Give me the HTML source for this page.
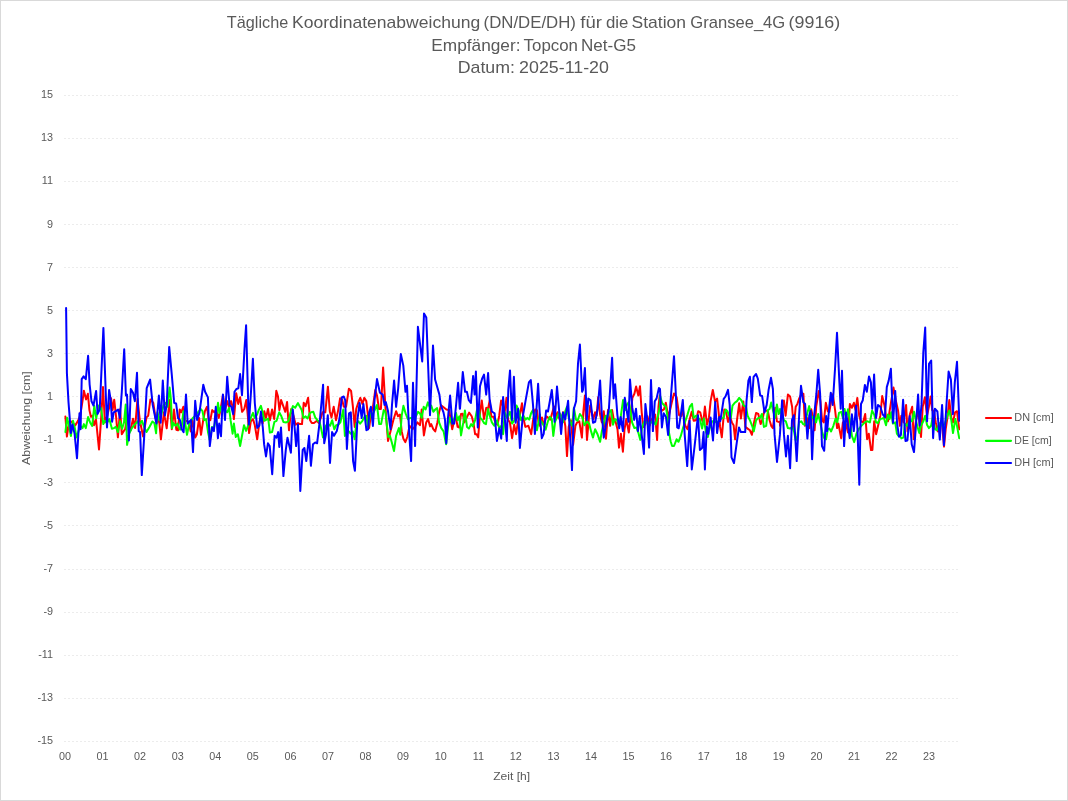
<!DOCTYPE html>
<html lang="de"><head><meta charset="utf-8"><title>Tägliche Koordinatenabweichung</title>
<style>html,body{margin:0;padding:0;background:#fff;}svg{display:block;}text{font-family:"Liberation Sans",sans-serif;fill:#595959;}</style></head><body>
<svg width="1068" height="801" viewBox="0 0 1068 801">
<rect x="0" y="0" width="1068" height="801" fill="#fff"/>
<rect x="0.5" y="0.5" width="1067" height="800" fill="none" stroke="#d9d9d9" stroke-width="1"/>
<line x1="64.5" y1="741.5" x2="960" y2="741.5" stroke="#d9d9d9" stroke-width="1" stroke-dasharray="1 3"/>
<line x1="64.5" y1="698.5" x2="960" y2="698.5" stroke="#d9d9d9" stroke-width="1" stroke-dasharray="1 3"/>
<line x1="64.5" y1="655.5" x2="960" y2="655.5" stroke="#d9d9d9" stroke-width="1" stroke-dasharray="1 3"/>
<line x1="64.5" y1="612.5" x2="960" y2="612.5" stroke="#d9d9d9" stroke-width="1" stroke-dasharray="1 3"/>
<line x1="64.5" y1="569.5" x2="960" y2="569.5" stroke="#d9d9d9" stroke-width="1" stroke-dasharray="1 3"/>
<line x1="64.5" y1="525.5" x2="960" y2="525.5" stroke="#d9d9d9" stroke-width="1" stroke-dasharray="1 3"/>
<line x1="64.5" y1="482.5" x2="960" y2="482.5" stroke="#d9d9d9" stroke-width="1" stroke-dasharray="1 3"/>
<line x1="64.5" y1="439.5" x2="960" y2="439.5" stroke="#d9d9d9" stroke-width="1" stroke-dasharray="1 3"/>
<line x1="64.5" y1="396.5" x2="960" y2="396.5" stroke="#d9d9d9" stroke-width="1" stroke-dasharray="1 3"/>
<line x1="64.5" y1="353.5" x2="960" y2="353.5" stroke="#d9d9d9" stroke-width="1" stroke-dasharray="1 3"/>
<line x1="64.5" y1="310.5" x2="960" y2="310.5" stroke="#d9d9d9" stroke-width="1" stroke-dasharray="1 3"/>
<line x1="64.5" y1="267.5" x2="960" y2="267.5" stroke="#d9d9d9" stroke-width="1" stroke-dasharray="1 3"/>
<line x1="64.5" y1="224.5" x2="960" y2="224.5" stroke="#d9d9d9" stroke-width="1" stroke-dasharray="1 3"/>
<line x1="64.5" y1="181.5" x2="960" y2="181.5" stroke="#d9d9d9" stroke-width="1" stroke-dasharray="1 3"/>
<line x1="64.5" y1="138.5" x2="960" y2="138.5" stroke="#d9d9d9" stroke-width="1" stroke-dasharray="1 3"/>
<line x1="64.5" y1="95.5" x2="960" y2="95.5" stroke="#d9d9d9" stroke-width="1" stroke-dasharray="1 3"/>
<line x1="64" y1="418.5" x2="960" y2="418.5" stroke="#d9d9d9" stroke-width="1"/>
<text x="53" y="744" font-size="10.8" text-anchor="end">-15</text>
<text x="53" y="701" font-size="10.8" text-anchor="end">-13</text>
<text x="53" y="658" font-size="10.8" text-anchor="end">-11</text>
<text x="53" y="615" font-size="10.8" text-anchor="end">-9</text>
<text x="53" y="572" font-size="10.8" text-anchor="end">-7</text>
<text x="53" y="529" font-size="10.8" text-anchor="end">-5</text>
<text x="53" y="486" font-size="10.8" text-anchor="end">-3</text>
<text x="53" y="443" font-size="10.8" text-anchor="end">-1</text>
<text x="53" y="400" font-size="10.8" text-anchor="end">1</text>
<text x="53" y="357" font-size="10.8" text-anchor="end">3</text>
<text x="53" y="314" font-size="10.8" text-anchor="end">5</text>
<text x="53" y="271" font-size="10.8" text-anchor="end">7</text>
<text x="53" y="228" font-size="10.8" text-anchor="end">9</text>
<text x="53" y="184" font-size="10.8" text-anchor="end">11</text>
<text x="53" y="141" font-size="10.8" text-anchor="end">13</text>
<text x="53" y="98" font-size="10.8" text-anchor="end">15</text>
<text x="65.0" y="759.8" font-size="10.8" text-anchor="middle">00</text>
<text x="102.6" y="759.8" font-size="10.8" text-anchor="middle">01</text>
<text x="140.1" y="759.8" font-size="10.8" text-anchor="middle">02</text>
<text x="177.7" y="759.8" font-size="10.8" text-anchor="middle">03</text>
<text x="215.3" y="759.8" font-size="10.8" text-anchor="middle">04</text>
<text x="252.8" y="759.8" font-size="10.8" text-anchor="middle">05</text>
<text x="290.4" y="759.8" font-size="10.8" text-anchor="middle">06</text>
<text x="328.0" y="759.8" font-size="10.8" text-anchor="middle">07</text>
<text x="365.6" y="759.8" font-size="10.8" text-anchor="middle">08</text>
<text x="403.1" y="759.8" font-size="10.8" text-anchor="middle">09</text>
<text x="440.7" y="759.8" font-size="10.8" text-anchor="middle">10</text>
<text x="478.3" y="759.8" font-size="10.8" text-anchor="middle">11</text>
<text x="515.8" y="759.8" font-size="10.8" text-anchor="middle">12</text>
<text x="553.4" y="759.8" font-size="10.8" text-anchor="middle">13</text>
<text x="591.0" y="759.8" font-size="10.8" text-anchor="middle">14</text>
<text x="628.5" y="759.8" font-size="10.8" text-anchor="middle">15</text>
<text x="666.1" y="759.8" font-size="10.8" text-anchor="middle">16</text>
<text x="703.7" y="759.8" font-size="10.8" text-anchor="middle">17</text>
<text x="741.3" y="759.8" font-size="10.8" text-anchor="middle">18</text>
<text x="778.8" y="759.8" font-size="10.8" text-anchor="middle">19</text>
<text x="816.4" y="759.8" font-size="10.8" text-anchor="middle">20</text>
<text x="854.0" y="759.8" font-size="10.8" text-anchor="middle">21</text>
<text x="891.5" y="759.8" font-size="10.8" text-anchor="middle">22</text>
<text x="929.1" y="759.8" font-size="10.8" text-anchor="middle">23</text>
<text x="226.82" y="28.0" font-size="16.6" textLength="61.40" lengthAdjust="spacingAndGlyphs">Tägliche</text>
<text x="292.02" y="28.0" font-size="16.6" textLength="188.22" lengthAdjust="spacingAndGlyphs">Koordinatenabweichung</text>
<text x="483.54" y="28.0" font-size="16.6" textLength="92.42" lengthAdjust="spacingAndGlyphs">(DN/DE/DH)</text>
<text x="580.32" y="28.0" font-size="16.6" textLength="21.60" lengthAdjust="spacingAndGlyphs">für</text>
<text x="606.04" y="28.0" font-size="16.6" textLength="22.42" lengthAdjust="spacingAndGlyphs">die</text>
<text x="631.52" y="28.0" font-size="16.6" textLength="54.46" lengthAdjust="spacingAndGlyphs">Station</text>
<text x="690.30" y="28.0" font-size="16.6" textLength="94.92" lengthAdjust="spacingAndGlyphs">Gransee_4G</text>
<text x="788.54" y="28.0" font-size="16.6" textLength="51.70" lengthAdjust="spacingAndGlyphs">(9916)</text>
<text x="431.30" y="50.6" font-size="16.6" textLength="89.20" lengthAdjust="spacingAndGlyphs">Empfänger:</text>
<text x="523.60" y="50.6" font-size="16.6" textLength="54.34" lengthAdjust="spacingAndGlyphs">Topcon</text>
<text x="581.02" y="50.6" font-size="16.6" textLength="54.94" lengthAdjust="spacingAndGlyphs">Net-G5</text>
<text x="457.74" y="72.9" font-size="16.6" textLength="57.24" lengthAdjust="spacingAndGlyphs">Datum:</text>
<text x="519.08" y="72.9" font-size="16.6" textLength="89.86" lengthAdjust="spacingAndGlyphs">2025-11-20</text>
<text x="493.2" y="779.9" font-size="11.6" textLength="37" lengthAdjust="spacingAndGlyphs">Zeit [h]</text>
<text transform="translate(29.7,464.9) rotate(-90)" font-size="11.6" textLength="93.6" lengthAdjust="spacingAndGlyphs">Abweichung [cm]</text>
<line x1="986" y1="418" x2="1011" y2="418" stroke="#ff0000" stroke-width="2.2" stroke-linecap="round"/>
<text x="1014.3" y="420.9" font-size="10.4" textLength="39.4" lengthAdjust="spacingAndGlyphs">DN [cm]</text>
<line x1="986" y1="440.8" x2="1011" y2="440.8" stroke="#00ff00" stroke-width="2.2" stroke-linecap="round"/>
<text x="1014.3" y="443.7" font-size="10.4" textLength="37.4" lengthAdjust="spacingAndGlyphs">DE [cm]</text>
<line x1="986" y1="463" x2="1011" y2="463" stroke="#0000ff" stroke-width="2.2" stroke-linecap="round"/>
<text x="1014.3" y="465.9" font-size="10.4" textLength="39.4" lengthAdjust="spacingAndGlyphs">DH [cm]</text>
<defs><clipPath id="plot"><rect x="64" y="90" width="896" height="656"/></clipPath></defs>
<polyline clip-path="url(#plot)" points="65.4,416.6 66.9,436.6 69.0,422.4 71.2,421.4 73.1,423.6 75.2,425.4 78.0,420.9 80.2,415.7 82.5,401.1 83.9,390.8 86.1,399.4 87.9,393.8 89.4,410.1 90.9,416.8 92.6,415.7 94.0,425.2 96.0,419.6 99.0,449.4 101.0,420.2 103.0,387.0 104.9,422.4 107.2,415.7 109.4,406.7 111.1,398.3 112.6,410.1 114.2,399.7 116.2,417.9 117.9,437.3 120.1,409.2 121.8,434.2 123.5,431.4 125.2,429.2 126.9,417.9 128.8,425.8 130.6,430.3 133.0,418.8 135.1,428.1 137.5,398.8 139.8,420.2 143.1,436.5 146.5,417.4 148.2,415.7 150.4,399.4 153.3,402.8 155.5,417.9 157.2,422.4 158.9,417.9 160.9,439.3 163.9,412.3 166.7,428.3 169.6,400.0 171.8,429.2 174.0,409.5 176.3,429.7 178.0,430.3 179.7,409.5 180.0,410.1 181.3,412.3 183.4,406.7 185.1,420.2 187.0,421.3 189.0,422.4 190.7,431.4 192.4,420.2 195.2,437.6 196.9,434.2 199.1,417.9 201.0,434.8 203.0,421.3 204.9,411.2 207.0,406.7 208.7,420.2 210.3,420.2 212.2,410.1 214.3,412.3 216.0,410.1 218.8,417.9 220.4,410.1 223.0,394.9 224.9,410.1 227.2,401.1 228.9,406.7 231.1,401.1 232.8,407.8 233.9,419.1 236.2,393.2 238.2,403.9 240.1,397.2 242.1,411.8 244.3,409.0 246.3,400.0 248.0,417.9 249.1,433.1 250.8,421.3 253.0,419.1 254.7,424.7 257.2,439.3 259.2,423.6 260.9,415.7 262.6,423.6 264.3,411.2 266.0,417.9 268.0,409.0 269.9,420.2 272.1,409.5 274.2,419.1 276.3,390.8 278.0,396.6 279.4,410.1 281.1,400.0 283.1,405.6 285.3,411.8 287.1,402.0 289.0,430.3 291.2,409.0 293.5,415.7 295.7,424.7 298.0,423.0 299.9,424.1 300.0,424.1 302.0,424.1 303.7,402.8 305.6,406.1 308.1,397.7 310.1,420.2 311.8,423.0 314.0,423.0 316.9,420.8 318.9,423.0 320.8,417.9 322.5,412.3 325.3,412.3 327.9,386.7 329.8,411.2 331.5,417.4 333.7,406.7 336.0,420.2 338.2,410.1 340.1,398.3 342.1,399.4 343.8,406.7 346.1,406.7 348.9,388.7 351.1,391.0 352.8,405.6 354.7,426.9 356.2,409.0 358.4,402.2 360.3,397.9 362.4,403.9 364.3,397.9 366.3,401.1 368.0,415.7 369.1,428.1 371.3,412.3 373.0,406.7 375.3,389.9 377.0,395.5 379.0,409.0 380.9,409.0 383.1,367.4 385.4,406.7 388.0,441.0 389.9,433.7 393.3,420.2 396.1,411.2 398.0,416.3 400.0,414.6 401.7,431.4 403.4,438.7 405.3,442.1 407.3,437.0 409.6,425.8 412.4,429.2 414.6,426.9 417.4,422.4 419.9,425.2 420.0,425.2 421.7,409.5 423.9,435.4 426.2,422.4 428.1,419.1 430.1,426.4 431.2,424.1 433.3,429.2 435.2,431.4 437.4,422.4 439.1,412.3 441.0,405.2 443.6,407.3 446.4,409.5 449.2,410.1 450.9,421.3 452.2,429.2 454.3,420.2 456.0,417.9 457.6,426.9 459.3,427.5 461.0,414.0 462.7,413.7 464.4,422.4 466.6,417.9 469.1,412.6 471.7,416.3 473.4,422.4 475.1,434.2 476.7,434.2 478.2,437.3 480.1,412.3 481.8,400.5 484.0,419.1 486.3,407.8 488.0,409.0 489.7,400.5 491.3,416.8 493.6,416.8 495.3,422.4 497.5,424.7 499.2,415.7 501.1,400.5 503.1,406.7 504.8,411.2 506.5,397.7 508.2,420.2 509.9,422.4 512.1,438.2 514.2,424.7 516.1,434.2 517.8,422.4 519.4,417.9 522.0,403.3 523.4,417.9 525.3,426.9 528.4,425.8 531.2,434.2 532.9,421.3 535.2,409.5 536.9,410.1 538.5,422.4 539.9,424.7 540.0,425.8 542.0,417.4 543.9,425.8 546.2,416.3 548.4,417.9 550.3,419.6 552.1,413.4 554.0,406.5 555.7,417.9 557.4,412.3 559.1,417.9 560.8,422.4 563.0,412.3 565.3,425.8 567.0,456.1 568.7,426.9 570.9,420.2 573.1,444.9 575.4,425.8 577.1,422.4 579.3,421.3 581.9,437.6 583.3,412.3 584.9,395.5 587.0,439.9 588.9,417.9 590.2,405.6 591.7,412.3 593.4,419.1 595.1,412.3 596.7,415.7 598.2,397.2 600.1,414.6 601.8,422.4 603.8,411.2 606.0,438.7 608.0,410.1 610.2,425.8 612.1,410.1 613.9,420.2 615.8,422.4 617.5,429.2 619.0,447.7 620.9,433.7 622.9,451.7 624.5,429.2 626.3,419.1 628.8,432.6 630.4,417.9 632.4,397.7 634.4,393.8 636.1,386.5 638.3,395.5 640.0,386.3 641.7,412.3 643.4,426.9 645.6,423.6 647.5,416.3 649.6,425.8 651.2,420.2 652.9,417.9 655.2,414.6 657.1,439.9 658.5,406.7 659.7,395.5 660.0,406.7 662.0,410.6 663.9,409.5 665.8,402.8 668.4,417.4 670.1,410.1 671.8,402.2 674.0,393.4 676.6,397.2 679.1,415.1 681.3,416.3 683.0,410.1 685.3,425.8 687.5,429.2 689.4,420.2 691.7,411.8 693.7,420.8 696.0,420.2 698.2,411.2 700.2,412.3 702.1,420.2 703.3,422.4 704.9,406.5 707.0,424.7 708.9,417.9 710.6,401.1 712.8,389.9 715.1,401.7 717.1,398.6 718.4,410.1 720.1,426.9 721.8,437.3 723.5,417.9 724.3,409.5 726.3,412.9 728.0,421.9 729.7,415.7 731.9,422.4 733.6,425.2 735.1,439.3 737.0,420.2 739.2,403.3 740.9,418.5 743.3,401.5 745.4,426.9 747.6,428.6 749.9,430.3 751.9,434.8 753.8,423.6 756.1,412.9 758.3,414.0 760.6,424.1 762.2,420.2 764.5,410.1 766.2,410.6 767.9,411.2 769.6,420.2 771.2,425.8 772.9,428.1 775.2,407.8 776.9,421.3 778.5,421.9 779.9,422.4 780.0,425.8 782.0,410.1 783.9,400.5 785.6,415.7 787.9,394.6 790.1,396.6 792.1,406.7 793.7,428.1 795.7,406.7 797.4,403.9 799.1,398.8 801.3,394.3 803.4,393.8 804.9,425.8 807.0,417.9 809.4,428.1 811.2,409.2 813.1,417.9 814.6,430.3 816.2,406.7 818.8,391.0 820.4,401.1 822.1,420.2 823.8,422.4 825.8,402.8 827.8,411.2 829.4,411.8 831.1,401.1 832.8,394.3 835.1,410.1 837.1,428.1 838.4,423.6 841.2,438.2 842.9,422.4 845.2,421.3 848.0,432.6 849.9,403.9 851.9,407.8 853.9,402.8 855.5,410.1 857.3,397.9 859.2,415.7 860.9,421.3 863.1,422.4 865.2,414.0 867.1,439.3 868.8,433.7 871.0,450.0 872.4,450.0 874.2,421.3 876.1,434.2 878.3,424.7 880.3,415.7 882.2,396.0 884.5,405.6 886.2,417.9 887.9,421.3 889.6,411.2 891.2,401.1 893.5,387.6 895.7,400.0 898.0,410.1 899.9,425.8 901.3,415.7 903.6,422.4 906.1,405.0 907.5,431.4 909.8,414.6 912.2,406.7 913.7,439.3 916.0,420.2 918.2,410.1 921.0,437.0 922.7,406.7 924.9,397.2 927.0,415.7 928.9,406.7 930.6,396.6 932.2,410.1 933.9,411.2 935.8,422.4 937.9,431.4 939.6,424.7 941.8,420.2 944.0,446.6 945.7,429.2 947.4,417.9 949.3,400.0 951.3,417.9 953.0,422.4 955.1,412.3 957.0,411.2 959.2,429.2" fill="none" stroke="#ff0000" stroke-width="2" stroke-linejoin="round" stroke-linecap="round"/>
<polyline clip-path="url(#plot)" points="65.4,432.0 67.1,417.7 69.0,425.8 70.9,436.1 73.0,420.8 74.6,426.9 76.6,437.6 78.5,431.4 80.4,425.8 82.5,428.1 83.9,424.1 85.8,428.1 88.1,417.0 90.1,422.4 92.2,426.0 94.3,405.8 96.2,418.2 98.8,405.6 101.0,408.1 103.3,424.1 104.9,420.8 107.2,422.4 109.4,419.1 111.9,428.8 113.9,428.1 115.8,426.9 117.9,432.0 120.1,421.3 122.1,428.8 124.0,422.4 125.7,404.5 127.1,444.9 129.1,433.7 131.9,428.1 134.2,425.2 137.5,421.3 139.2,424.9 142.0,420.8 144.0,426.9 146.5,432.0 149.3,427.2 152.4,421.5 154.4,423.0 156.1,433.3 157.5,412.3 159.4,420.2 161.1,415.7 163.4,405.6 165.6,402.8 167.6,406.7 169.6,387.6 171.0,400.0 172.0,428.1 173.5,423.0 175.4,425.8 177.4,423.6 179.1,427.5 180.0,429.7 181.7,426.9 183.4,411.2 185.1,422.4 187.0,434.8 188.8,425.8 190.7,421.3 192.9,417.9 195.2,415.7 198.0,412.3 200.8,409.0 202.5,411.2 204.2,420.2 206.1,419.1 208.1,432.6 209.8,440.4 212.0,426.9 213.7,429.2 216.0,417.9 218.0,402.8 219.3,412.9 221.0,406.7 223.3,405.6 224.9,410.1 227.2,412.3 229.1,407.8 230.6,420.2 232.6,433.7 233.9,423.6 235.8,437.0 237.9,434.2 240.1,446.0 242.4,433.7 244.0,425.2 246.1,430.9 248.5,424.7 250.8,417.9 253.0,412.9 254.7,417.9 257.0,414.6 258.7,410.1 260.9,405.8 262.6,412.3 264.3,420.8 266.5,419.6 268.2,418.5 269.9,432.6 272.1,432.0 274.4,421.9 276.6,420.8 279.2,412.3 281.1,415.7 283.4,421.9 286.2,422.4 288.4,421.3 290.7,412.3 292.9,406.1 295.2,407.8 298.0,403.1 299.9,406.7 300.0,406.7 301.7,410.1 303.4,417.9 305.6,416.3 307.6,418.5 309.6,413.4 311.2,412.3 313.3,411.8 315.2,417.4 317.4,420.2 319.7,422.4 321.3,429.2 323.0,437.6 325.3,426.9 327.5,423.6 330.1,425.8 332.2,420.2 334.3,429.2 336.2,425.2 338.2,424.7 340.4,422.4 343.3,409.5 344.9,435.9 347.0,431.4 348.9,431.4 350.6,433.7 352.8,431.4 354.7,439.3 356.2,423.6 358.4,421.3 360.1,423.6 362.4,420.8 364.6,416.8 366.3,415.7 368.0,426.9 370.2,413.4 372.5,414.6 374.7,410.1 377.0,405.0 379.2,424.1 381.1,424.1 383.7,410.1 385.4,411.8 388.2,437.0 389.9,435.9 391.9,442.7 394.0,451.1 396.1,435.9 398.9,428.1 400.3,434.8 401.7,415.7 403.4,405.8 405.6,413.4 407.9,419.1 410.7,417.9 412.9,419.1 415.2,417.9 418.0,411.8 419.9,413.4 420.0,413.4 421.7,417.9 423.7,406.7 425.6,409.5 427.9,402.4 429.6,406.7 431.2,405.6 433.3,411.8 435.2,409.5 437.1,408.1 439.1,422.4 441.3,428.1 443.6,431.4 446.1,444.3 448.1,426.9 449.8,417.9 452.0,423.6 453.7,420.2 456.0,412.9 457.6,420.2 459.3,416.3 461.0,435.4 463.3,422.4 464.9,410.6 467.0,426.9 468.9,428.6 471.1,424.1 472.8,426.4 475.1,420.2 476.7,411.2 478.4,406.7 480.3,417.9 482.4,420.2 484.0,423.0 486.0,424.1 488.0,409.0 489.7,415.7 491.9,422.4 494.2,425.8 497.0,420.2 499.2,428.1 501.5,425.8 503.1,434.2 504.8,412.3 507.1,417.9 509.9,411.8 512.1,423.6 514.4,420.2 516.6,405.6 518.9,411.2 521.1,420.2 523.4,415.7 525.6,419.6 527.3,417.9 529.2,419.6 531.2,412.9 532.9,410.1 534.6,417.9 536.9,430.3 538.5,422.4 539.9,414.6 540.0,420.2 541.7,421.9 543.4,424.7 545.6,429.7 547.9,421.3 549.8,416.8 551.8,419.1 553.3,435.9 555.2,421.3 557.4,416.8 559.1,412.3 561.0,415.7 563.0,422.4 565.3,411.2 567.0,406.7 568.7,417.9 570.3,422.4 572.2,425.8 573.9,407.8 576.0,419.6 577.6,420.8 579.9,414.0 582.1,416.8 584.4,425.2 587.2,421.3 589.1,423.6 591.1,431.4 593.0,437.6 595.1,429.2 597.3,433.7 600.1,441.8 601.8,431.4 603.8,422.4 605.7,415.7 607.4,417.9 609.1,412.3 611.0,410.1 613.0,424.7 614.9,419.1 617.0,420.2 618.7,425.8 620.9,415.7 623.1,400.0 625.1,410.1 627.1,404.5 628.8,402.2 630.4,410.1 632.1,422.4 634.4,428.1 636.4,427.5 638.3,432.6 640.3,439.9 642.2,426.9 644.5,421.3 646.7,422.4 649.6,423.6 651.2,422.4 652.9,420.8 655.7,424.7 658.0,415.7 659.9,406.7 660.0,395.5 662.0,402.8 663.9,405.0 665.8,406.7 667.3,415.7 669.0,432.6 670.7,441.5 672.1,446.0 674.0,446.0 676.6,439.3 678.5,441.8 680.8,435.9 683.0,428.1 685.3,421.3 687.5,414.6 689.8,406.7 692.0,403.9 693.7,417.9 696.0,415.7 697.6,417.9 699.9,419.1 702.1,428.6 703.8,418.5 705.8,431.4 707.8,437.0 709.4,429.2 711.7,422.4 713.9,420.2 716.2,422.4 718.4,421.3 721.2,418.5 723.5,417.9 725.7,409.5 727.4,411.2 729.1,415.7 730.8,417.9 732.5,405.6 734.7,402.8 737.0,401.1 739.2,397.9 741.5,400.5 743.7,405.6 746.0,406.7 747.6,415.7 749.9,420.2 752.1,425.8 753.8,431.4 756.1,420.2 758.3,417.9 760.0,417.9 761.9,414.0 763.9,426.9 766.2,425.8 767.9,410.1 769.6,409.0 771.2,402.4 772.9,410.1 775.2,417.9 776.9,404.5 778.5,414.0 779.9,412.9 780.0,409.0 782.0,413.4 783.9,420.2 785.8,421.3 787.9,428.1 790.1,428.6 792.4,426.9 794.0,431.4 795.7,440.4 797.4,435.9 799.1,422.4 801.3,421.3 803.0,424.1 804.9,424.7 807.0,414.6 809.2,406.1 810.9,415.7 812.6,417.9 814.3,415.7 816.0,422.4 818.2,414.0 819.9,421.3 822.1,431.4 823.8,437.6 826.1,439.3 827.8,429.2 829.4,428.6 831.1,431.4 833.4,425.8 835.6,418.5 837.3,422.4 839.0,412.9 841.2,411.8 842.9,417.9 844.6,409.0 846.3,417.9 848.0,409.2 849.7,419.1 851.9,435.9 854.2,442.1 856.4,433.7 858.7,429.2 860.9,426.4 863.1,424.1 865.4,421.9 867.6,421.3 869.9,422.4 872.1,410.6 874.2,414.6 876.1,422.4 877.8,423.0 880.0,419.1 882.2,418.5 883.9,417.9 886.0,425.2 887.9,414.6 889.6,419.1 891.2,412.3 892.9,423.6 895.2,422.4 896.9,433.7 898.5,435.9 899.9,435.9 901.3,438.2 903.4,437.6 904.9,423.6 907.0,425.8 908.7,422.4 910.3,420.2 912.0,421.3 914.0,411.8 916.0,421.3 918.2,429.2 919.3,433.1 921.0,425.8 923.3,421.3 925.3,415.7 927.0,424.7 928.9,428.1 931.1,425.8 932.8,416.8 935.1,429.2 936.7,430.3 938.4,425.8 940.7,422.4 942.9,426.9 945.2,422.4 947.4,415.7 949.3,410.6 951.3,420.2 953.0,433.1 955.3,419.1 957.0,425.8 959.2,438.2" fill="none" stroke="#00ff00" stroke-width="2" stroke-linejoin="round" stroke-linecap="round"/>
<polyline clip-path="url(#plot)" points="66.1,308.1 66.9,373.1 68.5,402.1 70.9,433.0 72.5,424.6 74.6,433.9 77.0,458.3 79.5,413.3 80.6,429.3 81.7,379.1 83.6,376.4 85.8,379.1 88.1,355.8 89.6,384.3 91.5,401.3 93.5,405.5 96.1,390.9 97.6,413.9 99.7,409.6 103.4,327.9 107.0,427.4 109.1,389.9 110.6,399.3 112.1,421.8 113.7,412.4 116.2,410.9 118.1,409.6 119.9,418.0 121.8,391.8 124.2,349.3 125.9,395.5 127.0,394.6 128.9,440.5 130.8,389.0 133.0,392.7 134.9,401.2 137.0,372.7 138.7,431.1 140.1,432.1 141.8,475.1 144.3,434.9 146.7,388.1 150.1,379.6 152.7,404.9 156.4,423.6 158.9,395.5 160.7,422.7 162.8,380.6 164.9,415.6 166.7,404.9 169.2,346.9 171.8,374.9 174.2,403.0 176.1,403.4 178.0,418.0 179.9,419.9 181.7,429.3 183.6,432.1 186.0,394.6 187.7,423.6 189.2,421.8 191.1,419.9 193.0,452.1 195.2,400.8 197.1,419.9 199.5,412.4 203.3,384.7 205.1,391.8 207.9,397.4 209.8,446.1 212.1,427.4 213.9,431.1 215.8,406.8 217.9,438.2 219.2,423.6 221.0,436.2 222.9,394.6 225.0,419.9 227.2,376.8 229.5,404.9 231.3,406.8 233.2,414.3 234.5,391.8 236.4,389.0 238.3,388.4 240.1,374.0 242.0,395.2 244.5,348.7 246.1,325.3 248.8,424.6 251.0,391.8 252.9,358.7 254.8,403.0 257.2,427.9 259.4,425.5 260.9,411.5 262.8,427.4 264.1,444.2 266.0,456.4 267.9,443.3 269.7,446.1 272.2,474.2 274.6,435.8 276.5,437.7 278.2,432.1 279.3,447.0 281.0,427.4 283.4,476.1 285.8,449.9 287.5,437.7 289.6,447.0 290.9,452.7 292.8,409.6 294.6,427.4 296.1,446.1 298.0,424.6 300.3,491.0 302.7,449.9 304.4,448.0 306.3,461.1 309.1,435.8 310.9,465.8 313.0,444.2 315.2,442.4 317.1,443.3 319.9,419.9 323.1,384.7 324.2,443.3 325.9,434.9 327.8,415.2 330.0,463.0 332.1,432.1 334.0,435.8 336.8,431.1 339.6,418.0 341.8,397.4 343.7,396.5 345.2,400.2 346.9,448.9 349.0,413.3 350.8,412.4 353.1,461.1 354.9,470.8 357.4,419.9 359.6,403.0 361.7,418.0 363.4,404.0 366.4,430.2 368.2,429.3 369.2,412.4 370.9,406.8 372.9,425.9 374.6,399.3 377.0,379.1 379.9,392.7 382.7,394.6 384.5,404.9 385.8,402.1 387.9,410.5 390.5,429.3 392.0,404.9 394.1,380.6 396.1,406.8 398.2,388.1 400.8,354.0 403.3,365.6 405.5,391.8 407.0,385.8 409.3,434.9 411.1,461.1 413.0,382.8 415.1,446.1 417.9,326.8 422.2,361.5 424.0,313.5 426.3,317.5 430.0,415.2 433.0,345.5 435.1,379.6 437.5,388.1 439.4,394.6 440.7,404.9 443.5,412.4 445.0,419.9 446.3,443.3 447.8,419.9 450.1,395.5 452.3,423.6 454.2,423.6 456.1,404.9 458.1,382.8 459.8,408.7 460.0,408.7 462.8,372.1 465.1,391.8 466.9,391.8 468.8,400.2 470.9,403.0 473.1,375.9 474.6,394.6 475.9,371.6 477.8,427.4 480.0,386.2 482.1,378.7 484.0,374.6 486.2,394.6 488.1,373.1 489.6,399.3 491.8,411.5 494.6,413.3 496.9,441.0 499.3,428.3 501.2,438.6 503.1,397.0 504.9,419.9 506.8,440.9 508.3,389.9 510.0,370.6 512.1,419.9 513.9,376.8 515.6,422.7 518.1,408.7 519.9,448.0 522.7,417.1 525.5,401.2 528.9,382.4 530.8,380.0 533.0,404.9 534.9,433.9 538.1,383.7 540.0,418.0 541.8,438.2 543.7,433.9 546.1,410.5 548.0,411.5 551.8,389.9 554.6,421.8 557.0,386.6 559.3,412.4 561.1,433.9 563.0,412.4 565.2,419.5 568.1,400.8 572.0,470.1 573.9,408.7 576.1,401.2 578.0,363.7 579.9,344.6 582.1,391.8 583.0,389.9 584.9,368.0 586.8,419.9 588.3,398.4 590.5,400.2 593.0,422.7 595.2,421.8 597.6,408.7 600.1,380.6 601.8,414.3 603.8,437.7 606.1,423.6 608.9,408.7 612.1,357.7 613.6,398.4 615.1,384.3 617.3,414.3 619.2,428.3 620.7,417.1 622.9,431.1 624.8,397.8 626.7,410.5 628.5,421.8 630.0,379.6 632.3,407.7 634.2,419.9 636.0,408.7 637.9,431.1 639.8,416.1 641.6,433.9 643.9,454.0 645.4,404.0 647.3,419.9 649.1,447.6 651.0,380.0 652.9,431.1 654.8,401.2 656.6,398.4 658.9,388.1 660.0,389.0 661.9,427.4 663.7,413.3 666.0,417.1 668.1,434.9 670.3,404.9 674.0,356.2 675.9,395.5 677.2,427.4 678.7,428.3 680.6,416.1 682.8,399.9 684.7,434.9 687.2,466.1 689.6,420.8 691.8,469.5 694.6,446.1 698.0,415.2 699.9,449.9 702.1,448.0 703.6,432.1 704.9,469.5 706.8,426.4 708.3,433.9 710.6,417.5 713.0,440.5 715.2,402.1 717.1,433.0 719.2,417.1 720.3,421.2 723.7,398.9 725.5,396.5 728.0,389.9 729.7,404.9 731.5,457.3 734.0,463.0 736.8,442.4 739.0,427.4 740.9,432.1 745.2,432.1 746.5,401.2 748.4,380.6 749.9,376.8 751.8,402.1 753.6,376.8 756.1,374.0 757.8,378.7 760.2,395.5 762.1,395.9 764.5,412.4 766.7,404.9 768.6,389.9 771.0,377.8 772.9,389.0 774.6,434.9 777.0,462.0 779.9,434.9 782.1,400.2 784.0,434.9 786.0,456.4 787.9,435.8 790.1,468.2 792.0,419.9 793.9,415.2 796.7,461.1 799.5,408.7 801.0,385.8 803.3,402.1 805.1,404.0 807.4,438.6 809.3,415.2 810.7,410.9 812.1,459.2 813.9,418.0 816.4,393.7 818.2,369.7 820.1,393.7 822.0,446.1 824.2,450.8 826.1,416.1 827.2,431.1 829.1,408.7 830.8,392.7 832.7,404.9 835.1,367.5 837.0,332.8 839.4,382.4 840.7,408.7 842.0,370.8 844.1,446.1 846.0,412.4 847.8,423.6 849.7,438.1 851.9,414.3 853.8,431.1 856.1,405.8 857.6,432.1 859.3,484.7 861.0,404.0 862.8,400.2 864.9,384.9 866.8,391.8 869.0,376.4 870.9,382.4 872.2,408.7 874.1,374.6 876.0,418.0 878.0,404.9 880.3,406.8 882.7,414.3 884.9,417.1 886.8,387.1 888.7,380.6 890.9,368.8 893.0,422.7 895.2,390.9 897.1,423.6 899.0,436.7 900.9,434.9 903.1,399.7 905.5,440.9 907.4,440.5 909.7,416.1 911.7,444.2 914.0,452.1 915.8,427.4 918.1,394.6 919.6,425.5 921.5,404.9 923.3,352.5 925.2,327.6 927.1,421.2 929.0,363.7 931.2,360.5 933.1,438.1 934.9,408.7 937.4,411.5 939.8,439.6 942.1,404.9 943.9,445.2 945.8,415.2 948.6,371.6 950.9,379.6 952.9,414.3 954.8,382.4 957.0,361.8 959.3,420.8" fill="none" stroke="#0000ff" stroke-width="2" stroke-linejoin="round" stroke-linecap="round"/>
</svg></body></html>
